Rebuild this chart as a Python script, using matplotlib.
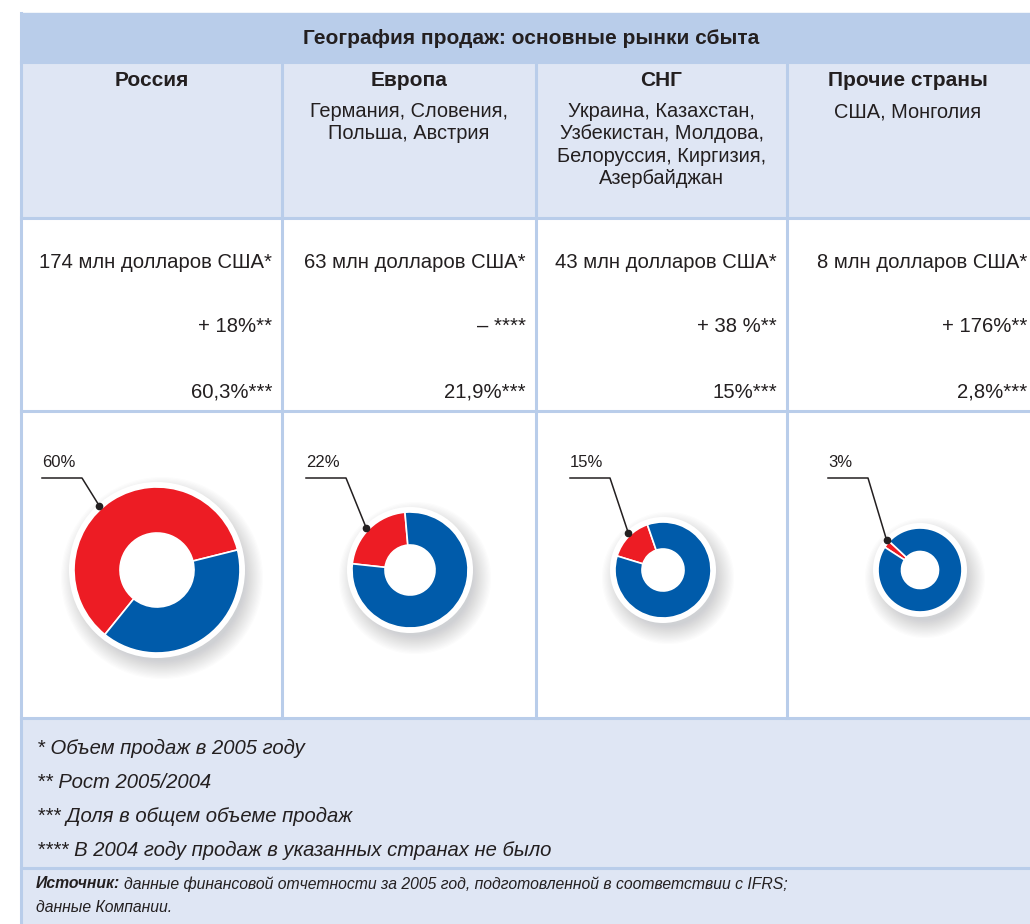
import numpy as np
import matplotlib.pyplot as plt
from matplotlib.patches import Rectangle, Circle

plt.rcParams['font.family'] = ['Liberation Sans', 'DejaVu Sans']

title = "География продаж: основные рынки сбыта"
regions = ['Россия', 'Европа', 'СНГ', 'Прочие страны']
countries = ['',
             'Германия, Словения,\nПольша, Австрия',
             'Украина, Казахстан,\nУзбекистан, Молдова,\nБелоруссия, Киргизия,\nАзербайджан',
             'США, Монголия']
sales = [174, 63, 43, 8]
growth = ['+ 18%**', '– ****', '+ 38 %**', '+ 176%**']
share = [60.3, 21.9, 15, 2.8]
notes = ['* Объем продаж в 2005 году',
         '** Рост 2005/2004',
         '*** Доля в общем объеме продаж',
         '**** В 2004 году продаж в указанных странах не было']
source_bold = 'Источник:'
source_text = 'данные финансовой отчетности за 2005 год, подготовленной в соответствии с IFRS;'
source_text2 = 'данные Компании.'

RED = '#ed1c24'
BLUE = '#005baa'
LINE = '#b9cdea'
BAND = '#b9cdea'
LIGHT = '#dfe6f4'
INK = '#231f20'

W, H = 1030, 924
def Y(y):
    return H - y

fig = plt.figure(figsize=(W / 100, H / 100), dpi=100)
ax = fig.add_axes([0, 0, 1, 1])

# table background
col_x = [21, 282, 536, 787, 1045]
ax.add_patch(Rectangle((21, Y(62)), 1030, 49, color=BAND, zorder=0))
ax.add_patch(Rectangle((21, Y(218)), 1030, 156, color=LIGHT, zorder=0))
ax.add_patch(Rectangle((21, Y(924)), 1030, 206, color=LIGHT, zorder=0))
for y in [62, 218, 411, 718, 868]:
    ax.plot([21, 1040], [Y(y), Y(y)], color=LINE, lw=2.2, zorder=1)
ax.plot([21, 21], [Y(13), Y(924)], color=LINE, lw=2.2, zorder=1)
for x in col_x[1:4]:
    ax.plot([x, x], [Y(62), Y(718)], color=LINE, lw=2.2, zorder=1)

ax.text(531, Y(38), title, ha='center', va='center', fontsize=15,
        fontweight='bold', color=INK)

# donut layout
centers = [157, 410, 663, 920]
radii = [83, 58, 48, 42]
holes = [37, 25, 21, 18.5]
starts = [14, 95, 109, 137]
label_x = [42, 306, 570, 828]
dot_ang = [132, 136, 133, 138]
cy = 570

for i in range(4):
    left, right = col_x[i], col_x[i + 1]
    mid = (left + right) / 2 if i < 3 else 908
    rx = right - 10 if i < 3 else 1027
    ax.text(mid, Y(81), regions[i], ha='center', va='center', fontsize=15,
            fontweight='bold', color=INK)
    if countries[i]:
        ax.text(mid, Y(102), countries[i], ha='center', va='top', fontsize=14.4,
                color=INK, linespacing=1.22)
    ax.text(rx, Y(262), f"{sales[i]} млн долларов США*", ha='right', va='center',
            fontsize=14.6, color=INK)
    ax.text(rx, Y(326), growth[i], ha='right', va='center', fontsize=14.6, color=INK)
    ax.text(rx, Y(392), f"{share[i]:g}".replace('.', ',') + '%***', ha='right',
            va='center', fontsize=14.6, color=INK)

    cx, r = centers[i], radii[i]
    # soft shadow
    for k in range(16):
        ax.add_patch(Circle((cx + 5, Y(cy + 8)), r + 18 - k * 1.2, color='#6a6f78',
                            alpha=0.02, lw=0, zorder=2))
    ax.add_patch(Circle((cx, Y(cy)), r + 5, color='white', lw=0, zorder=3))
    wedges, _ = ax.pie([share[i], 100 - share[i]], colors=[RED, BLUE],
                       startangle=starts[i], counterclock=True,
                       center=(cx, Y(cy)), radius=r, frame=True,
                       wedgeprops=dict(width=r - holes[i], edgecolor='white', linewidth=1.2))
    for w in wedges:
        w.set_zorder(4)

    # leader label
    a = np.deg2rad(dot_ang[i])
    dx, dy = cx + (r + 3) * np.cos(a), Y(cy) + (r + 3) * np.sin(a)
    lx = label_x[i]
    ax.plot([lx, lx + 40, dx], [Y(478), Y(478), dy], color=INK, lw=1.1, zorder=5)
    ax.plot(dx, dy, 'o', color=INK, ms=4.5, zorder=6)
    ax.text(lx, Y(470), f"{round(share[i])}%", ha='left', va='bottom', fontsize=12,
            color=INK)

ax.set_xlim(0, W)
ax.set_ylim(0, H)
ax.set_aspect('auto')
ax.axis('off')

# footnotes
for j, n in enumerate(notes):
    ax.text(37, Y(748 + 34 * j), n, ha='left', va='center', fontsize=14.6,
            style='italic', color=INK)
t = ax.text(36, Y(884), source_bold, ha='left', va='center', fontsize=11.3,
            style='italic', fontweight='bold', color=INK)
fig.canvas.draw()
bb = t.get_window_extent()
ax.text(bb.x1 + 4, Y(884), source_text, ha='left', va='center', fontsize=11.3,
        style='italic', color=INK)
ax.text(36, Y(908), source_text2, ha='left', va='center', fontsize=11.3,
        style='italic', color=INK)

fig.savefig('out.png', dpi=100, facecolor='white')
